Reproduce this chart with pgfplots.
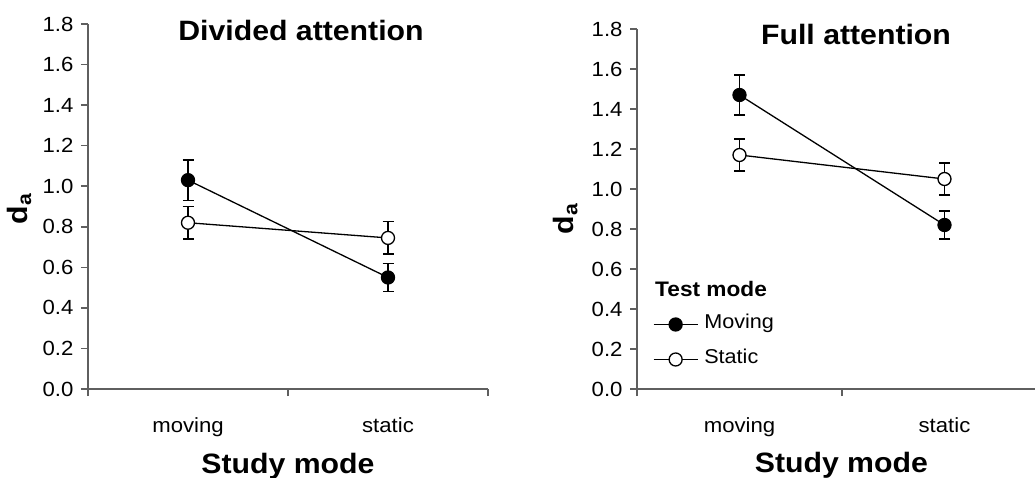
\documentclass[border=0pt]{standalone}
\usepackage{pgfplots}
\pgfplotsset{compat=1.18}
\usepackage{fontspec}
\setmainfont{Liberation Sans}[FakeStretch=1.08]
\definecolor{axisgray}{RGB}{95,95,95}

\pgfplotsset{
  myaxis/.style={
    scale only axis,
    xmin=0, ymin=0, ymax=1.8,
    axis x line*=bottom, axis y line*=left,
    axis line style={-, draw=axisgray, line width=1.5pt},
    tick align=outside,
    major tick length=7pt,
    tick style={draw=axisgray, line width=1.5pt},
    ytick={0,0.2,0.4,0.6,0.8,1.0,1.2,1.4,1.6,1.8},
    /pgf/number format/assume math mode=true,
    yticklabel style={/pgf/number format/fixed,/pgf/number format/fixed zerofill,/pgf/number format/precision=1, xshift=-4pt},
    tick label style={font=\fontsize{20.5}{24}\selectfont},
    xticklabels={},
    extra x ticks={0.5,1.5},
    extra x tick labels={moving,static},
    extra x tick style={major tick length=0pt, xticklabel style={anchor=base, yshift=-43pt}},
    title style={font=\bfseries\fontsize{28}{32}\selectfont, anchor=base, yshift=-6pt},
    xlabel style={font=\bfseries\fontsize{28}{32}\selectfont, anchor=base},
    ylabel style={font=\bfseries\fontsize{28}{32}\selectfont, anchor=center},
    ylabel={d\textsubscript{a}},
    xlabel={Study mode},
    filledplot/.style={black, line width=1.3pt, mark=*, mark size=6.5pt, mark options={fill=black, draw=black, line width=1.3pt},
      error bars/.cd, y dir=both, y explicit,
      error bar style={line width=1.5pt, black},
      error mark options={rotate=90, mark size=5.5pt, line width=1.5pt, black}},
    openplot/.style={black, line width=1.3pt, mark=*, mark size=6.5pt, mark options={fill=white, draw=black, line width=1.3pt},
      error bars/.cd, y dir=both, y explicit,
      error bar style={line width=1.5pt, black},
      error mark options={rotate=90, mark size=5.5pt, line width=1.5pt, black}},
  }
}

\begin{document}
\begin{tikzpicture}
\begin{axis}[myaxis,
  at={(88pt,88pt)}, anchor=south west,
  width=400pt, height=365pt,
  xmax=2, xtick={0,1,2},
  title={Divided attention},
  title style={at={(axis description cs:0.5325,0.956)}},
  xlabel style={at={(axis description cs:0.5,0)}, yshift=-84pt},
  ylabel style={at={(axis description cs:-0.172,0.493)}},
]
\addplot[filledplot] coordinates {(0.5,1.03) +- (0,0.10) (1.5,0.55) +- (0,0.07)};
\addplot[openplot] coordinates {(0.5,0.82) +- (0,0.08) (1.5,0.745) +- (0,0.08)};
\end{axis}

\begin{axis}[myaxis,
  at={(637pt,88pt)}, anchor=south west,
  width=397.7pt, height=360pt,
  xmax=1.94, xtick={0,1},
  title={Full attention},
  title style={at={(axis description cs:0.5507,0.9575)}},
  xlabel style={at={(axis description cs:0.5139,0)}, yshift=-83pt},
  ylabel style={at={(axis description cs:-0.18,0.472)}},
  legend style={at={(axis description cs:0.0402,0.2056)}, anchor=north west,
    draw=none, fill=none, inner sep=0pt, outer sep=0pt,
    font=\fontsize{20}{24}\selectfont,
    nodes={inner sep=0pt, text height=14pt, text depth=5pt},
    row sep=16pt, column sep=6pt},
  legend cell align=left,
  legend image code/.code={\draw[mark repeat=2, mark phase=2, #1] plot coordinates {(0pt,0pt) (22pt,0pt) (44pt,0pt)};},
]
\addplot[filledplot] coordinates {(0.5,1.47) +- (0,0.10) (1.5,0.82) +- (0,0.07)};
\addlegendentry{Moving}
\addplot[openplot] coordinates {(0.5,1.17) +- (0,0.08) (1.5,1.05) +- (0,0.08)};
\addlegendentry{Static}
\node[anchor=base west, inner sep=0pt, font=\bfseries\fontsize{21}{24}\selectfont] at (axis description cs:0.0453,0.2556) {Test mode};
\end{axis}
\pgfresetboundingbox
\path[use as bounding box] (0,0) rectangle (1036pt,477pt);
\end{tikzpicture}
\end{document}
